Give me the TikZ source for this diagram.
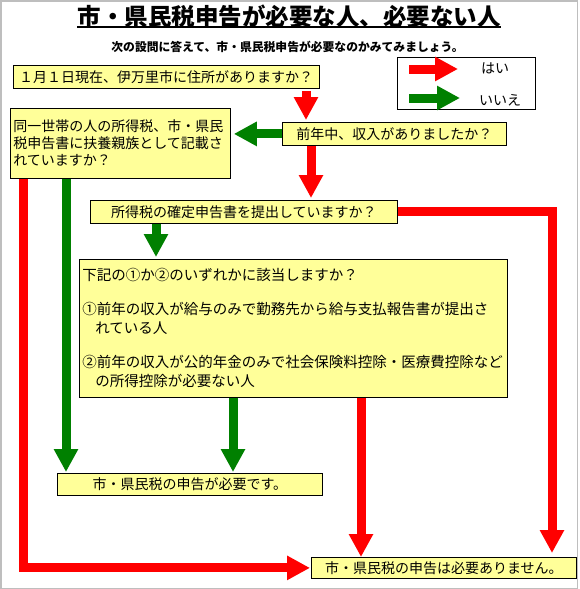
\documentclass[tikz,border=0pt]{standalone}
\usepackage{fontspec}
\setmainfont{Noto Sans CJK JP}
\usetikzlibrary{arrows.meta,calc}
\definecolor{boxyellow}{RGB}{255,255,153}
\definecolor{yesred}{RGB}{255,0,0}
\definecolor{nogreen}{RGB}{0,128,0}
\definecolor{framegray}{RGB}{190,190,190}
\begin{document}
\begin{tikzpicture}[x=1pt,y=-1pt,
  qbox/.style={draw=black, line width=0.8pt, fill=boxyellow, inner sep=0pt, anchor=north west, font=\fontsize{14}{17}\selectfont},
  yesarrow/.style={draw=yesred, line width=9pt, -{Triangle[width=23pt,length=23pt]}},
  noarrow/.style={draw=nogreen, line width=9pt, -{Triangle[width=23pt,length=23pt]}},
  legendtext/.style={font=\fontsize{14}{17}\selectfont, inner sep=0pt}
]
\useasboundingbox (0,0) rectangle (580,589);
\fill[white] (0,0) rectangle (580,589);
\draw[framegray, line width=1.5pt] (0.75,0.75) rectangle (577.5,588.25);

% title
\node[font=\fontsize{23.5}{28}\selectfont\bfseries, inner sep=0pt] (title) at (289,16) {市・県民税申告が必要な人、必要ない人};
\draw[line width=1.5pt] ([yshift=0.5pt]title.south west) -- ([yshift=0.5pt]title.south east);
\node[font=\fontsize{11.8}{14}\selectfont\bfseries, inner sep=0pt] (sub) at (287.5,47) {次の設問に答えて、市・県民税申告が必要なのかみてみましょう。};

% legend
\node[draw=black, line width=0.8pt, fill=white, minimum width=138pt, minimum height=52pt, anchor=north west, inner sep=0pt] (legend) at (397,57) {};
\coordinate (lr1) at (409,69);
\coordinate (lr2) at (458,69);
\coordinate (lg1) at (409,98);
\coordinate (lg2) at (460,98);
\draw[yesarrow] (lr1) -- (lr2);
\draw[noarrow] (lg1) -- (lg2);
\node[legendtext] (yes) at (495,68) {はい};
\node[legendtext] (no) at (500,100) {いいえ};

% boxes
\node[qbox, minimum width=306.5pt, minimum height=23pt] (b1) at (12.5,65) {１月１日現在、伊万里市に住所がありますか？};
\node[qbox, minimum width=224pt, minimum height=23pt] (b2) at (282,122) {前年中、収入がありましたか？};
\node[qbox, minimum width=220pt, minimum height=70pt, text width=214pt, inner xsep=3pt, align=left] (b3) at (10,108) {同一世帯の人の所得税、市・県民\\税申告書に扶養親族として記載さ\\れていますか？};
\node[qbox, minimum width=307pt, minimum height=23pt] (b4) at (90,200) {所得税の確定申告書を提出していますか？};
\node[qbox, minimum width=428pt, minimum height=138pt, text width=422pt, inner xsep=3pt, align=left, font=\fontsize{14.5}{19}\selectfont] (b5) at (79,259) {下記の①か②のいずれかに該当しますか？\\[15pt]①前年の収入が給与のみで勤務先から給与支払報告書が提出さ\\\hspace*{13pt}れている人\\[15pt]②前年の収入が公的年金のみで社会保険料控除・医療費控除など\\\hspace*{13pt}の所得控除が必要ない人};
\node[qbox, minimum width=265pt, minimum height=22pt] (b6) at (57,473) {市・県民税の申告が必要です。};
\node[qbox, minimum width=265pt, minimum height=21pt] (b7) at (311,557) {市・県民税の申告は必要ありません。};

% connector x positions
\coordinate (xa) at (306,0);
\coordinate (xb) at (311,0);
\coordinate (xc) at (552,0);
\coordinate (xd) at (156,0);
\coordinate (xe) at (66,0);
\coordinate (xf) at (23,0);
\coordinate (xg) at (233,0);
\coordinate (xh) at (361,0);

% connectors
\draw[yesarrow] ([yshift=-2pt]b1.south -| xa) -- ([yshift=2pt]b2.north -| xa);
\draw[noarrow] (b2.west) -- ([xshift=3pt]b2.west -| b3.east);
\draw[yesarrow] (b2.south -| xb) -- ([yshift=2pt]b4.north -| xb);
\draw[yesarrow] (b4.east) -- (b4.east -| xc) -- ([yshift=4pt]b7.north -| xc);
\draw[noarrow] (b4.south -| xd) -- ([yshift=2pt]b5.north -| xd);
\draw[noarrow] (b3.south -| xe) -- ([yshift=1pt]b6.north -| xe);
\draw[yesarrow] (b3.south -| xf) -- (b7.west -| xf) -- ([xshift=-1pt]b7.west);
\draw[noarrow] (b5.south -| xg) -- ([yshift=1pt]b6.north -| xg);
\draw[yesarrow] (b5.south -| xh) -- (b7.north -| xh);
\end{tikzpicture}
\end{document}
